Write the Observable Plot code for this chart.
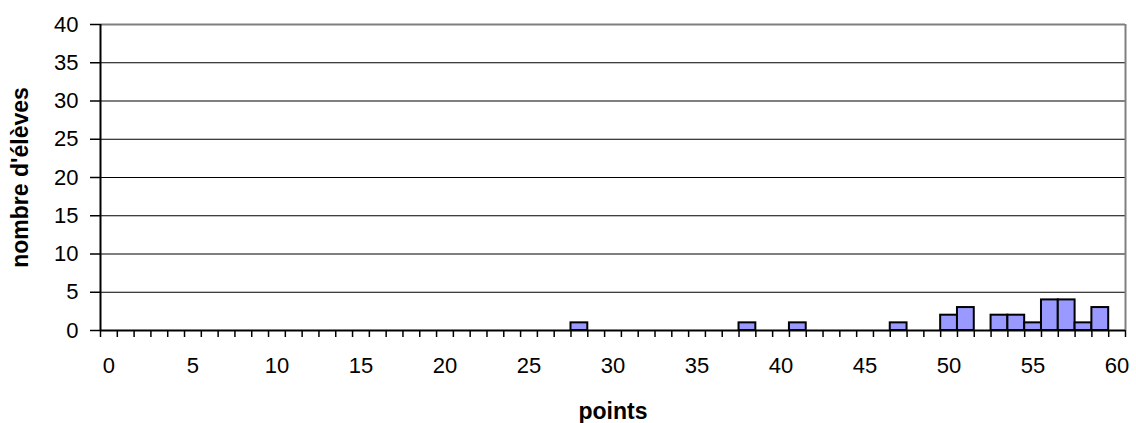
<!DOCTYPE html>
<html><head><meta charset="utf-8">
<script src="https://cdn.jsdelivr.net/npm/d3@7"></script>
<script src="https://cdn.jsdelivr.net/npm/@observablehq/plot@0.6"></script>
<style>body{margin:0;background:#fff} svg{font-family:"Liberation Sans",Arial,sans-serif}</style>
</head><body><div id="chart"></div>
<script>
const points = [28, 38, 41, 47, 50, 51, 53, 54, 55, 56, 57, 58, 59];
const counts = [1, 1, 1, 1, 2, 3, 2, 2, 1, 4, 4, 1, 3];
const xTickLabels = [0, 5, 10, 15, 20, 25, 30, 35, 40, 45, 50, 55, 60];
const yTicks = [0, 5, 10, 15, 20, 25, 30, 35, 40];
const xLabel = "points";
const yLabel = "nombre d'élèves";
const xMin = 0, xMax = 60;

const data = points.map((p, i) => ({p, n: counts[i]}));
const bounds = d3.range(xMin - 0.5, xMax + 1, 1);
const yMax = yTicks[yTicks.length - 1];

const chart = Plot.plot({
  width: 1136, height: 423,
  marginLeft: 100, marginRight: 11, marginTop: 24, marginBottom: 93,
  style: {fontFamily: "'Liberation Sans', Arial, sans-serif", fontSize: "22px", color: "black", background: "white"},
  x: {domain: [xMin - 0.5, xMax + 0.5]},
  y: {domain: [0, yMax]},
  marks: [
    Plot.ruleY(yTicks.filter(v => v > 0 && v < yMax), {stroke: "black", strokeWidth: 1}),
    Plot.ruleY([yMax], {stroke: "#808080", strokeWidth: 2}),
    Plot.ruleX([xMax + 0.5], {stroke: "#808080", strokeWidth: 2}),
    Plot.rect(data, {x1: d => d.p - 0.5, x2: d => d.p + 0.5, y1: 0, y2: "n", fill: "#9999ff", stroke: "black", strokeWidth: 2}),
    Plot.ruleX([xMin - 0.5], {stroke: "black", strokeWidth: 2}),
    Plot.ruleY([0], {stroke: "black", strokeWidth: 2}),
    Plot.axisX({ticks: bounds, tickSize: 7, tickFormat: () => "", stroke: "black", strokeWidth: 1.5, label: null}),
    Plot.axisX({ticks: xTickLabels, tickSize: 0, tickPadding: 27, fontSize: 22, label: null}),
    Plot.axisY({ticks: yTicks, tickSize: 10, tickPadding: 12, fontSize: 22, stroke: "black", strokeWidth: 1.5, label: null}),
    Plot.text([xLabel], {text: d => d, frameAnchor: "bottom", dy: 88, lineAnchor: "bottom", fontWeight: "bold", fontSize: 23, fill: "black"}),
    Plot.text([yLabel], {text: d => d, frameAnchor: "left", textAnchor: "middle", dx: -73, rotate: -90, lineAnchor: "bottom", fontWeight: "bold", fontSize: 23, fill: "black"})
  ]
});
document.getElementById("chart").appendChild(chart);
</script>
</body></html>
